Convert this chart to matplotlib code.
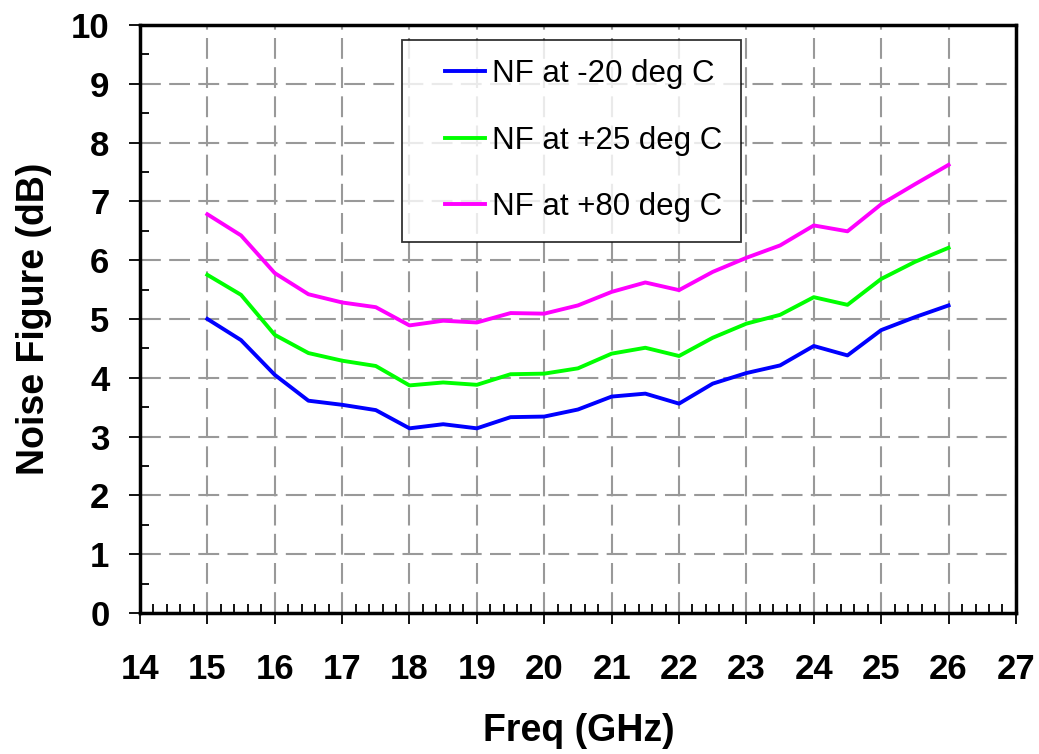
import matplotlib.pyplot as plt
from matplotlib.ticker import MultipleLocator
from matplotlib.legend_handler import HandlerLine2D

plt.rcParams['font.family'] = ['Liberation Sans', 'DejaVu Sans']

# Frequencias (GHz)
freq = [15, 15.5, 16, 16.5, 17, 17.5, 18, 18.5, 19, 19.5, 20, 20.5,
        21, 21.5, 22, 22.5, 23, 23.5, 24, 24.5, 25, 25.5, 26]

nf_m20 = [5.00, 4.64, 4.05, 3.61, 3.54, 3.45, 3.14, 3.21, 3.14, 3.33, 3.34, 3.46,
          3.68, 3.73, 3.56, 3.90, 4.08, 4.21, 4.54, 4.38, 4.81, 5.03, 5.23]
nf_p25 = [5.75, 5.41, 4.73, 4.42, 4.29, 4.20, 3.87, 3.92, 3.88, 4.06, 4.07, 4.16,
          4.41, 4.51, 4.37, 4.68, 4.92, 5.07, 5.37, 5.24, 5.68, 5.97, 6.21]
nf_p80 = [6.78, 6.42, 5.78, 5.42, 5.28, 5.20, 4.89, 4.97, 4.94, 5.10, 5.09, 5.23,
          5.46, 5.62, 5.49, 5.80, 6.04, 6.25, 6.59, 6.49, 6.95, 7.29, 7.62]

labels = ['NF at -20 deg C', 'NF at +25 deg C', 'NF at +80 deg C']
cores = ['#0000ff', '#00ff00', '#ff00ff']


# linha da legenda so na parte direita do espaco do handle (como no Excel)
class HandlerCurto(HandlerLine2D):
    def create_artists(self, legend, orig_handle, xdescent, ydescent,
                       width, height, fontsize, trans):
        arts = super().create_artists(legend, orig_handle, xdescent, ydescent,
                                      width, height, fontsize, trans)
        xd = arts[0].get_xdata()
        yd = arts[0].get_ydata()
        x0, x1 = xd[0], xd[-1]
        arts[0].set_data([x0 + 0.38 * (x1 - x0), x1], [yd[0], yd[0]])
        return arts


fig = plt.figure(figsize=(10.39, 7.54), dpi=100)
ax = fig.add_axes([0.1347, 0.187, 0.8431, 0.780])

for y, lab, c in zip([nf_m20, nf_p25, nf_p80], labels, cores):
    ax.plot(freq, y, color=c, lw=2.8, label=lab)

ax.set_xlim(14, 27)
ax.set_ylim(0, 10)
ax.xaxis.set_major_locator(MultipleLocator(1))
ax.xaxis.set_minor_locator(MultipleLocator(0.2))
ax.yaxis.set_major_locator(MultipleLocator(1))
ax.yaxis.set_minor_locator(MultipleLocator(0.5))

ax.grid(True, which='major', color='#999999', linestyle=(0, (10, 4)), lw=1.5)
ax.set_axisbelow(True)

for s in ax.spines.values():
    s.set_linewidth(2.5)
    s.set_color('black')

ax.tick_params(which='major', direction='out', length=8, width=1.3,
               labelsize=25)
ax.tick_params(axis='x', which='major', pad=21)
ax.tick_params(axis='y', which='major', pad=14)
ax.tick_params(which='minor', direction='in', length=6.5, width=1.3)
for t in ax.get_xticklabels() + ax.get_yticklabels():
    t.set_fontweight('bold')

ax.set_xlabel('Freq (GHz)', fontsize=27, fontweight='bold')
ax.set_ylabel('Noise Figure (dB)', fontsize=27, fontweight='bold')
ax.xaxis.set_label_coords(0.5006, -0.170)
ax.yaxis.set_label_coords(-0.100, 0.5)

leg = ax.legend(loc='upper left', bbox_to_anchor=(0.299, 0.9745), fontsize=22.5,
                frameon=True, fancybox=False, edgecolor='black',
                handlelength=2.03, handletextpad=0.23, labelspacing=1.17,
                borderpad=0.62, borderaxespad=0,
                handler_map={plt.Line2D: HandlerCurto()})
leg.get_frame().set_linewidth(1.3)

fig.savefig('out.png', dpi=100)
